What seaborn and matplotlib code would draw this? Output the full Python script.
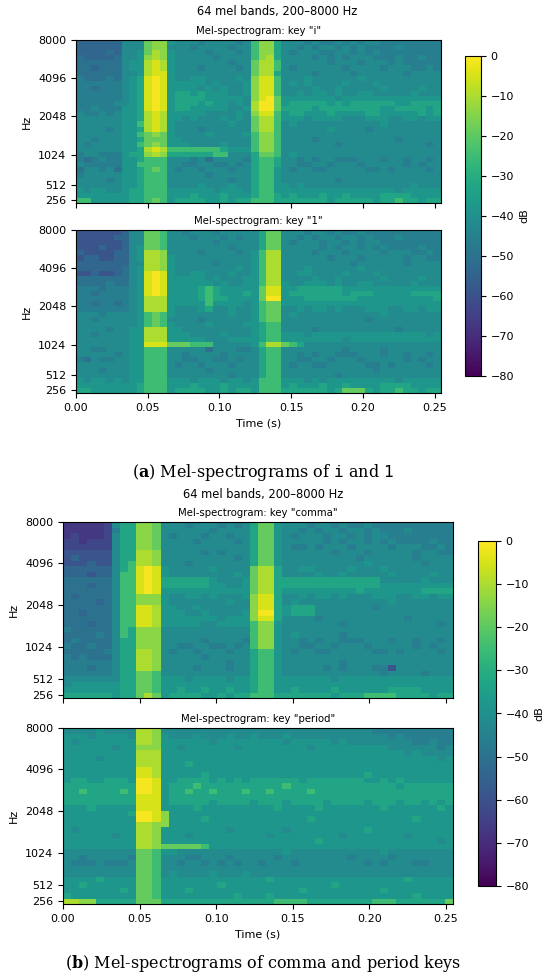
import numpy as np
import pandas as pd
import matplotlib
matplotlib.use("Agg")
import matplotlib.pyplot as plt
import seaborn as sns

# dB code book: one character per cell
LEVELS = "0123456789abcdefg"
LEVEL_DB = [-1, -5, -10, -14, -19, -25, -33, -38, -42, -46, -50, -54, -59, -63, -67, -72, -78]

# mel spectrograms: 32 rows (pairs of the 64 mel bands, 8 kHz row first)
# x 48 frames over 0 .. 0.2545 s; spaces only split the rows into readable chunks
KEY_I = [
    "bbbbbb 888 433 78889888898 5336 888989989898899999999",
    "bbbbbb 888 433 88898888988 5336 889898898989999899999",
    "bbbbab 887 423 78888988898 5336 898889988989899999999",
    "abbbba 887 323 78888898888 5326 888898989888999899899",
    "aaaaaa 877 212 78888888988 4225 888888988898889899999",
    "aabaaa 877 212 78889888898 4225 898888889888898889989",
    "aaaaaa 887 211 78888888888 4226 888898888988888898888",
    "9aaa9a 876 101 78877888878 3115 888788888878888888888",
    "999999 876 101 77777878887 3115 878788887888788888888",
    "99a999 876 101 77778787887 3115 888878878888878888788",
    "999999 876 101 76676777887 3115 887877878877888887888",
    "999999 876 101 76666777778 3104 777777787777777777777",
    "999998 876 101 76667677878 2004 766666767666666776666",
    "998999 776 101 76677777887 2004 666676666666677666676",
    "899898 776 212 77777888878 3115 766777677776677777676",
    "888888 776 212 77878887878 4225 777877778887778877877",
    "888888 775 212 78888888788 4225 878888888888878888888",
    "888898 776 212 78889888888 4225 888888788889888888888",
    "888888 775 434 78888788887 5335 888888888888888888888",
    "889888 776 444 77888888888 5335 888898888888888988888",
    "898888 775 434 77788887888 5335 888888898888888888898",
    "888888 776 212 55555556777 5335 888888888888888888888",
    "988999 766 323 66666655888 6445 878888888888888888888",
    "9a9899 776 555 88898a88889 6556 889898899988898898898",
    "899999 775 555 88998899898 6556 889988988898888898988",
    "a8898a 776 545 89889888988 6557 898899888889989888898",
    "988888 776 555 88888988888 6557 888888888888888888888",
    "888898 776 555 88888888988 6557 888888898888888888888",
    "888888 776 555 88887888788 6557 787888888888888887888",
    "787788 766 555 77777787778 6557 777777777777777877777",
    "777777 766 555 77767776777 6556 767776776777766667777",
    "557777 766 545 76666776766 5556 666666766666766566766",
]

KEY_1 = [
    "ccccccb 88 445 88988898888 8644 888988989989999999999",
    "cccccbb 88 445 88898889898 8644 889898898898999899999",
    "ccccccb 88 445 88888898888 8644 898889889898899999999",
    "cccbccb 87 445 88888888988 8644 888889898898989999899",
    "bccccbb 87 223 88889888898 7522 888898889888898889989",
    "cbbccbb 87 223 78888888888 7522 888888988898888898899",
    "bbbbbbb 88 223 78888898888 7522 888888888988888898888",
    "bbbbbba 87 223 78888888878 7522 888788888878888888888",
    "ccbccba 87 101 78877888788 7522 887788887888788888888",
    "aaaaaaa 87 101 77777878887 7522 888878878888878888788",
    "aaaa9aa 87 101 77777787887 7522 788777878877888887888",
    "999a999 87 101 77776567777 7411 776666667777777777777",
    "99a9999 87 101 77776567776 7411 766666667666777776666",
    "9999999 87 222 77776566777 7400 777666666677777777776",
    "99a99a9 87 222 77777577778 7544 777777777777777777777",
    "9999999 87 222 78887688788 7544 887877878887778877877",
    "8889888 87 545 78888888788 7544 878888888888878888888",
    "8898888 87 545 88889888888 7544 888888888889888888888",
    "8888888 87 545 78888788887 7655 888888888888888888888",
    "8888988 77 222 77888888888 7655 888898888888888988888",
    "8898888 77 222 77788887888 7655 777877777777777777787",
    "8888888 77 222 77777888777 7655 777777778777777777777",
    "8888888 77 111 44455588888 7522 456888888888888888888",
    "8899888 77 555 88888a88899 8655 888888889888898888888",
    "8888898 77 555 88988889888 8655 889898899988898898898",
    "9a89988 77 555 88998899898 8655 889988988898888898988",
    "8888888 77 555 89889888988 8655 898899888889989888898",
    "8889888 77 555 88888988888 8655 888888888888988888888",
    "8888888 77 555 88888888988 8655 888888898888888888888",
    "7877878 77 555 77787778778 7555 777878777777777877777",
    "7777777 76 555 77767776777 7555 767776776777766667777",
    "6677777 76 555 76666776766 7555 666666764446766566766",
]

KEY_COMMA = [
    "eeeeed 8 66 334 88898889898 6447 888988989989999999999",
    "eeeeed 9 66 334 88888898888 6447 889898898898999899999",
    "edeeed 8 66 334 89888988988 6447 898889889898899999999",
    "ddeddd 8 66 334 88889888898 6447 888889898898989999899",
    "dddddd 8 66 334 88888888888 6447 899898889888898889989",
    "cccccc 8 66 223 88888989888 6447 888888988898888898899",
    "cbcccc 8 66 223 88888888898 6447 888888888988888898888",
    "cccbcc 8 65 223 88898888888 6447 888888888878888889888",
    "bbbbbb 8 65 101 78888878888 4226 887788887888788888888",
    "bbbcbb 8 55 101 78888888878 4226 888878878888878888788",
    "aaaaaa 8 55 101 66666678887 4226 666666666666888887888",
    "aaabaa 8 55 101 66666677887 4226 666666666666777777777",
    "aaaaaa 8 55 101 77777777777 4226 777777777677777776666",
    "abaaaa 8 55 333 78877878887 3116 887877878887778877877",
    "aaaaba 8 55 333 78888888788 3116 878888888888878888888",
    "aaaaaa 8 55 112 77887888888 3116 766688888889888888888",
    "aabaaa 8 55 112 77788788887 3006 766688888888888888888",
    "aaaaaa 8 55 112 77777778777 3116 888898888888888988888",
    "aaabaa 8 55 112 77777887777 5337 888888898888888888898",
    "9aaaaa 8 56 333 88888888888 5337 888888888888888888888",
    "aaaa9a 8 56 333 88888888888 5337 878888898888888888888",
    "a9aaaa 8 66 333 88888988889 5337 889898899988898898898",
    "9aa9aa 8 66 333 88998899898 5337 889988988898888898988",
    "aaaaa9 8 66 223 89889888988 6557 898899888889989888898",
    "9a9aaa 8 66 223 88888988888 6557 888888888888888888888",
    "999999 8 66 223 88888888988 6557 888888898888888888888",
    "999a99 8 66 223 88889888988 6557 8888898988899c8888888",
    "999999 8 66 445 88888888888 6557 888888888888988889888",
    "888888 8 66 445 77787777877 6557 777777877777777777777",
    "877777 7 66 445 77777777777 6557 777777777777777777777",
    "777777 7 66 445 77677677677 6557 767777677777766667777",
    "666666 7 66 424 76666776766 5556 666666766655556666766",
]

KEY_PERIOD = [
    "888878888 223 88888888888 8888888888888889999999999",
    "777877778 223 78887888788 7888788888888888898999999",
    "787777777 223 77777787777 7777877777878888888899899",
    "777777877 333 77877777787 7777777877777777788888898",
    "777777777 222 77777777777 7777777777777777777878888",
    "777787777 222 77777777777 7777777777777777777777787",
    "777777777 222 77767777777 7777777777777777777777777",
    "777777777 112 77777777777 7777777777777777777777777",
    "777777777 112 77777677777 7777777777777767777777777",
    "766776667 001 77666676767 6666667666666677676777777",
    "666666666 001 76665666666 6666566666666666667666666",
    "665666656 001 76656656665 6656666566666666666666666",
    "666666666 111 76666666666 6666666666666666666666666",
    "666666666 111 76666676666 7666766667666676667667676",
    "777677777 111 77776777777 7776777767777777677777767",
    "777777776 001 37777777777 7777777777777777777777777",
    "777777777 001 37777677777 7777777677777777777767777",
    "777777777 223 37777777777 7777777777777777777777777",
    "787777777 223 77777777877 7777877777777767777777777",
    "777777877 223 77787777777 7787777777787777777877777",
    "777777777 223 77777777777 7777777767777777777777787",
    "777777777 223 44444577777 7777777777777777777777777",
    "888888888 445 77888888888 8888788888888888788888888",
    "889888889 445 88899888988 8889888888889888898888888",
    "899989998 445 88988989898 8988898888888898988899888",
    "888888888 445 88888888888 8888888888888888888888888",
    "888888888 445 87888878887 8888888888888888888888888",
    "777767777 445 77777777777 7767777777777777777677777",
    "776777777 445 77777776777 7777777777677777777777777",
    "777777767 445 77767777777 7777776777777777677777777",
    "677777777 445 77777777767 7767777777777777777767777",
    "223366666 444 66666666666 6665555666666665556666664",
]

TITLES_A = ['Mel-spectrogram: key "i"', 'Mel-spectrogram: key "1"']
TITLES_B = ['Mel-spectrogram: key "comma"', 'Mel-spectrogram: key "period"']
SUPTITLE = "64 mel bands, 200–8000 Hz"
CAPTION_A = r"($\mathbf{a}$) Mel-spectrograms of $\mathtt{i}$ and $\mathtt{1}$"
CAPTION_B = r"($\mathbf{b}$) Mel-spectrograms of comma and period keys"

FREQ_TICKS = [256, 512, 1024, 2048, 4096, 8000]
TIME_TICKS = [0.00, 0.05, 0.10, 0.15, 0.20, 0.25]
DB_TICKS = [-80, -70, -60, -50, -40, -30, -20, -10, 0]
T_END = 0.2545
F_MIN, F_MAX = 200.0, 8000.0


def decode(rows):
    rows = [r.replace(" ", "") for r in rows]
    bad = [(i, len(r)) for i, r in enumerate(rows) if len(r) != 48]
    if bad:
        raise ValueError(f"bad row lengths: {bad}")
    vals = [[LEVEL_DB[LEVELS.index(c)] for c in r] for r in rows]
    return pd.DataFrame(vals, dtype=float)


def mel(f):
    # slaney mel scale (librosa default)
    f = np.asarray(f, dtype=float)
    lin = f / (200.0 / 3)
    log = 15.0 + np.log(np.maximum(f, 1e-9) / 1000.0) / (np.log(6.4) / 27.0)
    return np.where(f >= 1000.0, log, lin)


def draw(ax, rows, title, cax=None, show_x=False):
    df = decode(rows)
    nr, nc = df.shape
    sns.heatmap(df, ax=ax, cmap="viridis", vmin=-80, vmax=0,
                cbar=cax is not None, cbar_ax=cax,
                cbar_kws={"ticks": DB_TICKS},
                xticklabels=False, yticklabels=False, rasterized=True)

    frac = (mel(FREQ_TICKS) - mel(F_MIN)) / (mel(F_MAX) - mel(F_MIN))
    ax.set_yticks(nr * (1 - frac))
    ax.set_yticklabels([str(f) for f in FREQ_TICKS], rotation=0)
    ax.set_xticks([t / T_END * nc for t in TIME_TICKS])
    if show_x:
        ax.set_xticklabels([f"{t:.2f}" for t in TIME_TICKS], rotation=0)
        ax.set_xlabel("Time (s)", fontsize=8)
    else:
        ax.set_xticklabels([])
        ax.set_xlabel("")
    ax.set_ylabel("Hz", fontsize=8)
    ax.tick_params(labelsize=8, length=3.5, width=0.8)
    for s in ax.spines.values():
        s.set_visible(True)
        s.set_linewidth(0.8)
        s.set_color("black")
    ax.set_title(title, fontsize=7.3, pad=4)

    if cax is not None:
        cb = ax.collections[0].colorbar
        cb.outline.set_visible(True)
        cb.outline.set_linewidth(0.8)
        cb.outline.set_edgecolor("black")
        cb.ax.tick_params(labelsize=8, length=3.5, width=0.8)
        cb.set_label("dB", fontsize=8)


plt.rcParams["mathtext.fontset"] = "dejavuserif"

fig = plt.figure(figsize=(5.5, 9.8), dpi=100)
W, H = 550.0, 980.0


def rect(x0, y0, x1, y1):
    return [x0 / W, 1 - y1 / H, (x1 - x0) / W, (y1 - y0) / H]


# panel (a)
ax1 = fig.add_axes(rect(76, 40, 441, 203))
ax2 = fig.add_axes(rect(76, 230, 441, 393))
cax_a = fig.add_axes(rect(465, 56, 481, 376))
draw(ax1, KEY_I, TITLES_A[0], cax=cax_a)
draw(ax2, KEY_1, TITLES_A[1], show_x=True)

# panel (b)
ax3 = fig.add_axes(rect(63, 522, 453, 698))
ax4 = fig.add_axes(rect(63, 728, 453, 904))
cax_b = fig.add_axes(rect(478, 541, 496, 886))
draw(ax3, KEY_COMMA, TITLES_B[0], cax=cax_b)
draw(ax4, KEY_PERIOD, TITLES_B[1], show_x=True)

fig.text(277 / W, 1 - 11 / H, SUPTITLE, ha="center", va="center", fontsize=8.3)
fig.text(263 / W, 1 - 494 / H, SUPTITLE, ha="center", va="center", fontsize=8.3)
fig.text(263 / W, 1 - 472 / H, CAPTION_A, ha="center", va="center",
         fontsize=11.5, family="DejaVu Serif")
fig.text(263 / W, 1 - 963 / H, CAPTION_B, ha="center", va="center",
         fontsize=11.5, family="DejaVu Serif")

fig.savefig("out.png", dpi=100)
